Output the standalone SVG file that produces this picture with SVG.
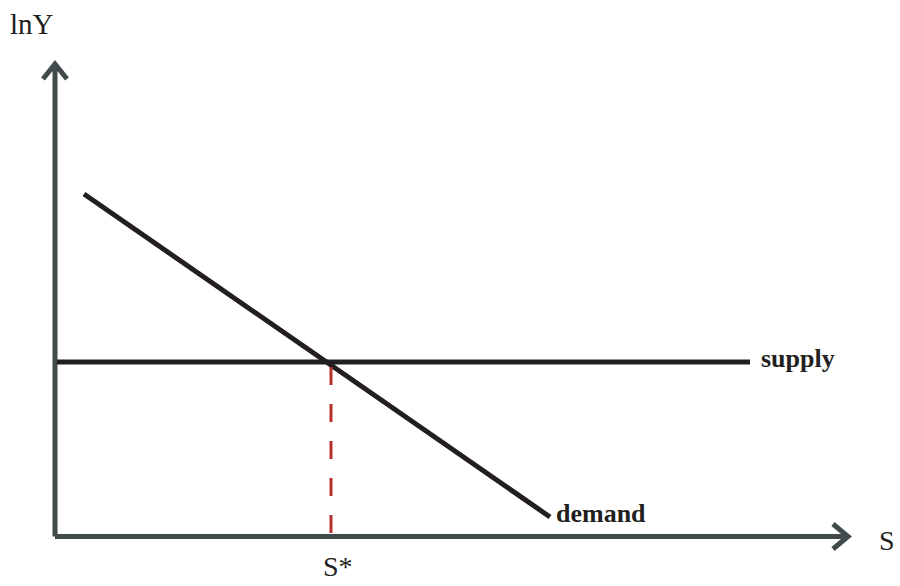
<svg xmlns="http://www.w3.org/2000/svg" width="900" height="586" viewBox="0 0 900 586">
<style>
.axis{stroke:#414b4c;stroke-width:5;fill:none}
.curve{stroke:#231f20;stroke-width:5;fill:none}
.guide{stroke:#b5302f;stroke-width:3;stroke-dasharray:18 19;fill:none}
.lbl{font-family:"Liberation Serif","Times New Roman",serif;font-size:28px;fill:#231f20}
.clbl{font-family:"Liberation Serif","Times New Roman",serif;font-size:26px;font-weight:bold;fill:#231f20}
</style>
<rect width="900" height="586" fill="#ffffff"/>
<g id="connectors">
<path class="axis" d="M55 536.5 V64 M43 79 L55 64 L67 79"/>
<path class="axis" d="M55 536.5 H848 M833 524 L848 536.5 L833 549"/>
<line class="curve" x1="57" y1="362" x2="750" y2="362"/>
<line class="curve" x1="84" y1="194" x2="550" y2="517"/>
<line class="guide" x1="331" y1="367" x2="331" y2="534"/>
</g>
<g id="labels">
<text class="lbl" x="10" y="34" style="font-size:29px">lnY</text>
<text class="lbl" x="879" y="550">S</text>
<text class="lbl" x="323" y="576">S*</text>
<text class="clbl" x="761" y="367">supply</text>
<text class="clbl" x="556" y="522">demand</text>
</g>
</svg>
